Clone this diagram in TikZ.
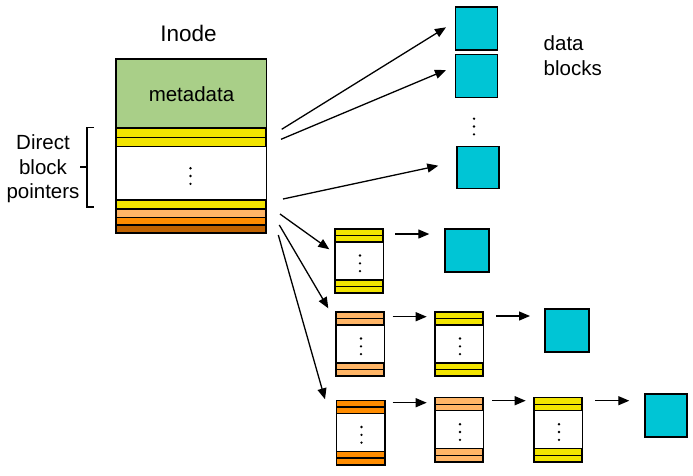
\documentclass[tikz,border=0pt]{standalone}
\usepackage{fontspec}
\setmainfont{Liberation Sans}
\usetikzlibrary{arrows.meta}
\definecolor{metac}{HTML}{A9CF88}
\definecolor{ylw}{HTML}{F2E400}
\definecolor{lor}{HTML}{FFB566}
\definecolor{org}{HTML}{FF8C00}
\definecolor{brn}{HTML}{C06200}
\definecolor{cyn}{HTML}{00C5D5}
\tikzset{
  box/.style={draw=black, line width=1.5pt},
  strip/.style={draw=black, line width=1.3pt},
  datablk/.style={draw=black, line width=1.5pt, fill=cyn, minimum width=42pt, minimum height=42pt, inner sep=0pt, anchor=north west},
  arr/.style={line width=1.3pt, -{Triangle[length=11pt,width=9pt]}},
  lbl/.style={font=\fontsize{20.5}{24.3}\selectfont, inner sep=0pt},
}
\newcommand\vdotsat[2]{%
  \foreach \dy in {-7.8,0,7.8} \fill ({#1},{#2+(\dy)}) circle (1.3pt);}
\newcommand\indblk[4]{%
  \node[fill=white, minimum width=48pt, minimum height=64pt, inner sep=0pt, anchor=north west] (#1) at (#2,#3) {};
  \draw[strip, fill=#4] ({#2},{#3}) rectangle ++(48,6.5);
  \draw[strip, fill=#4] ({#2},{#3+6.5}) rectangle ++(48,6.5);
  \draw[strip, fill=#4] ({#2},{#3+51}) rectangle ++(48,6.5);
  \draw[strip, fill=#4] ({#2},{#3+57.5}) rectangle ++(48,6.5);
  \draw[box] (#1.north west) rectangle (#1.south east);
  \vdotsat{#2+25}{#3+34.3}}
\begin{document}
\begin{tikzpicture}[x=1pt,y=-1pt]
\useasboundingbox (0,0) rectangle (693,475);

% Inode
\node[lbl, font=\fontsize{22.5}{26}\selectfont, anchor=base] (title) at (188.5,41) {Inode};
\node[fill=white, minimum width=150pt, minimum height=174pt, inner sep=0pt, anchor=north west] (inode) at (116,59) {};
\fill[metac] (116,59) rectangle (266,128);
\draw[strip, fill=ylw] (116,128) rectangle (266,137.5);
\draw[strip, fill=ylw] (116,137.5) rectangle (266,146.5);
\draw[strip, fill=ylw] (116,200) rectangle (266,209);
\draw[strip, fill=lor] (116,209) rectangle (266,217.5);
\draw[strip, fill=org] (116,217.5) rectangle (266,225);
\draw[strip, fill=brn] (116,225) rectangle (266,233);
\draw[box] (inode.north west) rectangle (inode.south east);
\node[lbl, anchor=base] (meta) at (191.5,101.7) {metadata};
\vdotsat{190.5}{176}

% brace and label
\draw[line width=1.1pt] (94,127.5) -- (87,127.5) -- (87,207) -- (94,207);
\draw[line width=1.1pt] (87,167) -- (79.5,167);
\node[lbl, align=center, anchor=base] (dbp) at (43,198.3) {Direct\\block\\pointers};

% data blocks
\node[datablk, minimum height=43pt] (d1) at (454.5,6) {};
\node[datablk, minimum height=43pt] (d2) at (454.5,53.5) {};
\node[datablk] (d3) at (456,145.5) {};
\vdotsat{474}{126.5}
\node[lbl, align=left, anchor=base west] (dbl) at (543.5,75) {data\\blocks};

% arrows from inode
\coordinate (s1) at (281.7,129.3); \coordinate (t1) at (446,27.3);
\coordinate (s2) at (281,139.3);   \coordinate (t2) at (446,70);
\coordinate (s3) at (283,199);     \coordinate (t3) at (438.3,165.7);
\coordinate (s4) at (280,214);     \coordinate (t4) at (329.3,249.3);
\coordinate (s5) at (279.3,225);   \coordinate (t5) at (328.3,308.3);
\coordinate (s6) at (278.3,235);   \coordinate (t6) at (325,399.3);
\foreach \i in {1,...,6} \draw[arr] (s\i) -- (t\i);

% row 1
\indblk{i1}{335}{229}{ylw}
\node[datablk, minimum width=44pt, minimum height=43pt] (c1) at (444,228) {};
\coordinate (r1s) at (395.3,234); \coordinate (r1t) at (429.3,234);
\draw[arr] (r1s) -- (r1t);

% row 2
\indblk{i2a}{336}{312}{lor}
\indblk{i2b}{435}{312}{ylw}
\node[datablk, minimum width=44pt, minimum height=43pt] (c2) at (544.3,308.3) {};
\coordinate (r2s1) at (392.7,316.7); \coordinate (r2t1) at (426.7,316.7);
\coordinate (r2s2) at (496,316);     \coordinate (r2t2) at (530,316);
\draw[arr] (r2s1) -- (r2t1);
\draw[arr] (r2s2) -- (r2t2);

% row 3
\indblk{i3a}{336.5}{400.5}{org}
\indblk{i3b}{435}{397.7}{lor}
\indblk{i3c}{534}{397.7}{ylw}
\node[datablk, minimum height=43pt] (c3) at (644,393.3) {};
\coordinate (r3s1) at (392.7,402.7); \coordinate (r3t1) at (426.7,402.7);
\coordinate (r3s2) at (492,400.7);   \coordinate (r3t2) at (525.7,400.7);
\coordinate (r3s3) at (595.3,400.7); \coordinate (r3t3) at (629.3,400.7);
\draw[arr] (r3s1) -- (r3t1);
\draw[arr] (r3s2) -- (r3t2);
\draw[arr] (r3s3) -- (r3t3);
\end{tikzpicture}
\end{document}
